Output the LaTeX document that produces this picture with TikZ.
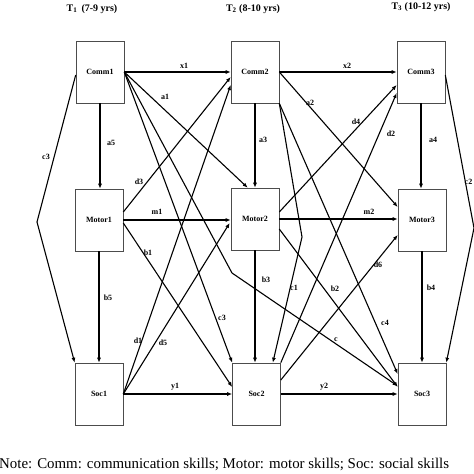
\documentclass[tikz,border=0pt]{standalone}
\usepackage{fontspec}
\setmainfont{Liberation Serif}
\usetikzlibrary{arrows.meta,calc}
\begin{document}
\begin{tikzpicture}[x=1pt,y=-1pt,
 box/.style={draw=black!70,line width=0.6pt,minimum width=48pt,minimum height=62pt,inner sep=0pt,font=\fontsize{8}{9}\selectfont\bfseries},
 arr/.style={line width=1.1pt,-{Latex[length=5pt,width=4pt]}},
 lbl/.style={font=\fontsize{8}{9}\selectfont\bfseries,inner sep=0pt},
 ttl/.style={font=\fontsize{10}{12}\selectfont\bfseries,inner sep=0pt}]
\useasboundingbox (0,0) rectangle (474,474);
\clip (0,0) rectangle (474,474);
% titles
\node[ttl] (t1) at (92,9) {T\textsubscript{1}\, (7-9 yrs)};
\node[ttl] (t2) at (253,9) {T\textsubscript{2} (8-10 yrs)};
\node[ttl] (t3) at (421,7) {T\textsubscript{3} (10-12 yrs)};
% boxes
\node[box] (comm1) at (100,72) {Comm1};
\node[box] (comm2) at (255,72) {Comm2};
\node[box] (comm3) at (421,72) {Comm3};
\node[box] (motor1) at (99,220) {Motor1};
\node[box] (motor2) at (255,219) {Motor2};
\node[box] (motor3) at (422,220) {Motor3};
\node[box] (soc1) at (99,394) {Soc1};
\node[box] (soc2) at (256.5,394) {Soc2};
\node[box] (soc3) at (422,394) {Soc3};
% kink points
\coordinate (kl) at (37,222);
\coordinate (kc) at (232,273);
\coordinate (kr1) at (302,237);
\coordinate (kr) at (474,228);
% Comm1
\draw[arr] (comm1.east) -- (comm2.west);
\draw[arr] (comm1.east) -- ($(motor2.north west)+(17,0)$);
\draw[arr] (comm1.east) -- (soc2.north west);
\draw[arr] (comm1.east) -- (kc) -- ($(soc3.west)+(0,-8)$);
\draw[arr] (comm1.south) -- (comm1.south |- motor1.north);
\draw[arr] ($(comm1.west)+(0,3)$) -- (kl) -- (soc1.north west);
% Comm2
\draw[arr] (comm2.east) -- (comm3.west);
\draw[arr] (comm2.east) -- ($(motor3.west)+(0,-13)$);
\draw[arr] (comm2.south east) -- ($(soc3.west)+(0,-20)$);
\draw[arr] (comm2.south east) -- (kr1) -- ($(soc2.north east)+(-8,0)$);
\draw[arr] (comm2.south) -- (comm2.south |- motor2.north);
% Comm3
\draw[arr] (comm3.south) -- (comm3.south |- motor3.north);
\draw[arr] ($(comm3.east)+(0,3)$) -- (kr) -- (soc3.north east);
% Motor1
\draw[arr] (motor1.east) -- (motor1.east -| motor2.west);
\draw[arr] ($(motor1.east)+(0,-8)$) -- ($(comm2.west)+(0,5)$);
\draw[arr] ($(motor1.east)+(0,3)$) -- ($(soc2.west)+(0,-7)$);
\draw[arr] (motor1.south) -- (motor1.south |- soc1.north);
% Soc1
\draw[arr] (soc1.east) -- (soc2.west);
\draw[arr] (soc1.east) -- ($(comm2.west)+(0,13)$);
\draw[arr] (soc1.east) -- ($(motor2.west)+(-1,4)$);
% Motor2
\draw[arr] (motor2.east) -- (motor2.east -| motor3.west);
\draw[arr] ($(motor2.east)+(0,-7)$) -- ($(comm3.west)+(0,13)$);
\draw[arr] ($(motor2.east)+(0,10)$) -- ($(soc3.west)+(0,-7)$);
\draw[arr] (motor2.south) -- (motor2.south |- soc2.north);
% Soc2
\draw[arr] (soc2.east) -- (soc3.west);
\draw[arr] (soc2.north east) -- ($(comm3.west)+(0,21)$);
\draw[arr] ($(soc2.east)+(0,-14)$) -- ($(motor3.west)+(0,15)$);
% Motor3
\draw[arr] (motor3.south) -- (soc3.north);
% labels
\node[lbl] (lx1) at (184,66) {x1};
\node[lbl] (lx2) at (347,66) {x2};
\node[lbl] (la1) at (165,97) {a1};
\node[lbl] (la2) at (310,103) {a2};
\node[lbl] (ld4) at (356,122) {d4};
\node[lbl] (ld2) at (391,134) {d2};
\node[lbl] (la5) at (111,143) {a5};
\node[lbl] (la3) at (263,140) {a3};
\node[lbl] (la4) at (433,140) {a4};
\node[lbl] (lc3l) at (46,157) {c3};
\node[lbl] (lc2) at (468.5,182) {c2};
\node[lbl] (ld3) at (139,182) {d3};
\node[lbl] (lm1) at (157,212) {m1};
\node[lbl] (lm2) at (369,212) {m2};
\node[lbl] (lb1) at (148,253) {b1};
\node[lbl] (ld6) at (378,265) {d6};
\node[lbl] (lb3) at (266,280) {b3};
\node[lbl] (lc1) at (294,288) {c1};
\node[lbl] (lb2) at (335,289) {b2};
\node[lbl] (lb5) at (108,298) {b5};
\node[lbl] (lb4) at (431,288) {b4};
\node[lbl] (lc3) at (222,318) {c3};
\node[lbl] (lc4) at (385,323) {c4};
\node[lbl] (lc) at (336,340) {c};
\node[lbl] (ld1) at (138,341) {d1};
\node[lbl] (ld5) at (163,343) {d5};
\node[lbl] (ly1) at (175,387) {y1};
\node[lbl] (ly2) at (324,387) {y2};
% note
\node[anchor=west,inner sep=0pt,font=\fontsize{14.9}{17}\selectfont] (note) at (-1,464) {Note: Comm: communication skills; Motor: motor skills; Soc: social skills};
\end{tikzpicture}
\end{document}
